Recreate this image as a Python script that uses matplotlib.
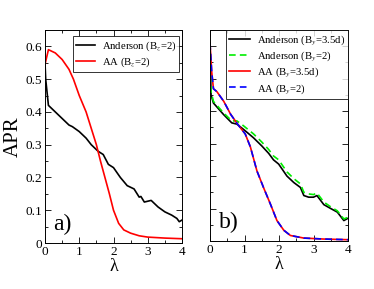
import matplotlib
matplotlib.use("Agg")
import matplotlib.pyplot as plt
from matplotlib.ticker import MultipleLocator, NullFormatter

plt.rcParams['font.family'] = ['Liberation Serif', 'DejaVu Serif']
plt.rcParams['mathtext.fontset'] = 'stix'

# Panel a) data
lam_and_a = [0.0, 0.02, 0.1, 0.3, 0.5, 0.7, 0.8, 1.0, 1.2, 1.35, 1.55, 1.7, 1.85, 2.0, 2.2, 2.4, 2.6,
             2.75, 2.8, 2.9, 3.1, 3.3, 3.5, 3.7, 3.85, 3.92, 4.0]
apr_and_a = [0.55, 0.50, 0.42, 0.40, 0.38, 0.36, 0.355, 0.34, 0.32, 0.30, 0.28, 0.27, 0.24, 0.23, 0.20,
             0.175, 0.165, 0.14, 0.142, 0.125, 0.13, 0.11, 0.095, 0.085, 0.075, 0.065, 0.07]
lam_aa_a = [0.0, 0.1, 0.3, 0.5, 0.7, 0.83, 1.0, 1.2, 1.35, 1.5, 1.62, 1.75, 1.88, 2.0, 2.15, 2.3, 2.5,
            2.75, 3.0, 3.5, 4.0]
apr_aa_a = [0.545, 0.59, 0.58, 0.56, 0.53, 0.50, 0.45, 0.40, 0.35, 0.30, 0.25, 0.20, 0.15, 0.10, 0.06,
            0.04, 0.03, 0.022, 0.018, 0.015, 0.013]

# Panel b) data
lam_and_b = [0.0, 0.03, 0.1, 0.39, 0.63, 0.78, 0.97, 1.26, 1.5, 1.7, 1.84, 1.99, 2.23, 2.43, 2.62,
             2.72, 2.86, 3.0, 3.1, 3.3, 3.5, 3.69, 3.88, 4.0]
apr_and_b35 = [0.61, 0.45, 0.425, 0.39, 0.364, 0.36, 0.344, 0.318, 0.293, 0.27, 0.25, 0.237, 0.20,
               0.18, 0.165, 0.14, 0.135, 0.135, 0.14, 0.112, 0.10, 0.089, 0.063, 0.07]
apr_and_b2 = [0.61, 0.46, 0.43, 0.395, 0.37, 0.37, 0.355, 0.33, 0.305, 0.282, 0.262, 0.25, 0.213,
              0.192, 0.176, 0.15, 0.145, 0.143, 0.148, 0.12, 0.105, 0.093, 0.068, 0.073]
lam_aa_b = [0.0, 0.05, 0.1, 0.2, 0.4, 0.6, 0.8, 1.02, 1.17, 1.36, 1.55, 1.75, 1.94, 2.14, 2.33, 2.72,
            3.3, 4.0]
apr_aa_b = [0.61, 0.52, 0.469, 0.46, 0.43, 0.39, 0.36, 0.33, 0.29, 0.216, 0.165, 0.114, 0.063, 0.033,
            0.017, 0.009, 0.006, 0.004]

fig = plt.figure(figsize=(3.74, 2.89), dpi=100)
ax1 = fig.add_axes([45/374, 1-243/289, 137/374, 213/289])
ax2 = fig.add_axes([210/374, 1-241/289, 138/374, 211/289])

lw = 1.2
ax1.plot(lam_and_a, apr_and_a, color='black', lw=lw, label=r'Anderson (B$_z$=2)')
ax1.plot(lam_aa_a, apr_aa_a, color='red', lw=lw, label=r'AA (B$_z$=2)')

ax2.plot(lam_and_b, apr_and_b35, color='black', lw=lw, label=r'Anderson (B$_y$=3.5d)')
ax2.plot(lam_and_b, apr_and_b2, color='#00ee00', lw=lw, ls=(0, (4, 2.5)), label=r'Anderson (B$_y$=2)')
ax2.plot(lam_aa_b, apr_aa_b, color='red', lw=lw, label=r'AA (B$_y$=3.5d)')
ax2.plot(lam_aa_b, apr_aa_b, color='blue', lw=lw, ls=(0, (4, 2.5)), label=r'AA (B$_y$=2)')

for ax in (ax1, ax2):
    ax.set_xlim(0, 4)
    ax.set_ylim(0, 0.65)
    ax.xaxis.set_major_locator(MultipleLocator(1))
    ax.xaxis.set_minor_locator(MultipleLocator(0.5))
    ax.yaxis.set_major_locator(MultipleLocator(0.1))
    ax.yaxis.set_minor_locator(MultipleLocator(0.05))
    ax.tick_params(which='both', direction='in', top=True, right=True, labelsize=9.5, pad=2)
    ax.tick_params(which='major', length=4, width=0.6)
    ax.tick_params(which='minor', length=2, width=0.6)
    for s in ax.spines.values():
        s.set_linewidth(0.7)
    ax.set_xlabel('λ', fontsize=13, labelpad=0)

ax1.set_yticks([0, 0.1, 0.2, 0.3, 0.4, 0.5, 0.6])
ax1.set_yticklabels(['0', '0.1', '0.2', '0.3', '0.4', '0.5', '0.6'])
ax1.set_ylabel('APR', fontsize=15, labelpad=2)
ax2.yaxis.set_major_formatter(NullFormatter())

ax1.text(0.25, 0.04, 'a)', fontsize=17)
ax2.text(0.25, 0.04, 'b)', fontsize=17)

leg1 = ax1.legend(loc='upper right', bbox_to_anchor=(0.98, 0.97), fontsize=7.7, frameon=True,
                  fancybox=False, edgecolor='black', handlelength=1.8, borderpad=0.3,
                  labelspacing=0.25, handletextpad=0.6, borderaxespad=0)
leg1.get_frame().set_linewidth(0.7)
leg2 = ax2.legend(loc='upper right', bbox_to_anchor=(1.0, 1.0), fontsize=7.7, frameon=True,
                  fancybox=False, edgecolor='black', handlelength=2.0, borderpad=0.3,
                  labelspacing=0.2, handletextpad=0.6, borderaxespad=0)
leg2.get_frame().set_linewidth(0.7)

fig.savefig('out.png', dpi=100)
